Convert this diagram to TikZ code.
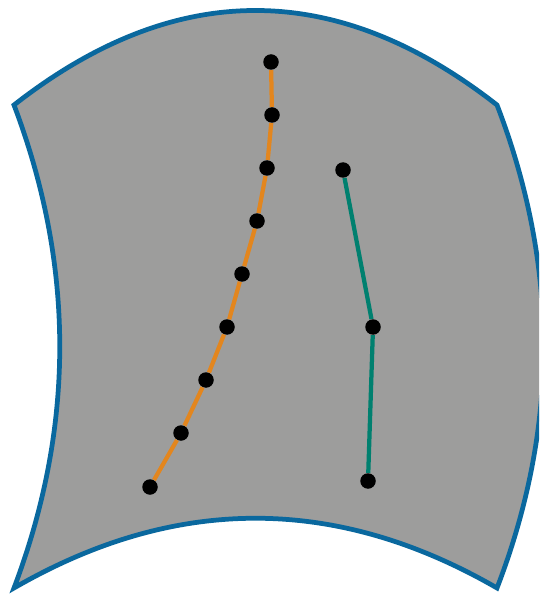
\documentclass[tikz,border=0pt]{standalone}
\usepackage{tikz}
\definecolor{sheetgray}{HTML}{9D9D9C}
\definecolor{rimblue}{HTML}{0A689E}
\definecolor{pathorange}{HTML}{E3861E}
\definecolor{pathteal}{HTML}{00806F}

\begin{document}
\begin{tikzpicture}[x=0.02cm, y=-0.02cm,
    dot/.style={circle, fill=black, inner sep=0pt, minimum size=0.31cm},
    rim/.style={draw=rimblue, fill=sheetgray, line width=0.095cm, line join=miter},
    trail/.style={line width=0.085cm}]
  \useasboundingbox (0,0) rectangle (539,594);
  \clip (0,0) rectangle (539,594);

  % --- curved sheet ---
  \draw[rim] (14,105) .. controls (175,-21) and (336,-21) .. (497,105)
    .. controls (559,266) and (559,427) .. (497,588)
    .. controls (336,495) and (175,495) .. (14,588)
    .. controls (75,427) and (75,266) .. cycle;

  % --- long trail (orange) ---
  \foreach \i/\x/\y in {1/271/62, 2/272/115, 3/267/168, 4/257/221, 5/242/274,
                        6/227/327, 7/206/380, 8/181/433, 9/150/487}
    \node[dot] (o\i) at (\x,\y) {};
  \draw[trail, pathorange] (o1) -- (o2) -- (o3) -- (o4) -- (o5)
    -- (o6) -- (o7) -- (o8) -- (o9);

  % --- short trail (teal) ---
  \foreach \i/\x/\y in {1/343/170, 2/373/327, 3/368/481}
    \node[dot] (t\i) at (\x,\y) {};
  \draw[trail, pathteal] (t1) -- (t2) -- (t3);
\end{tikzpicture}
\end{document}
